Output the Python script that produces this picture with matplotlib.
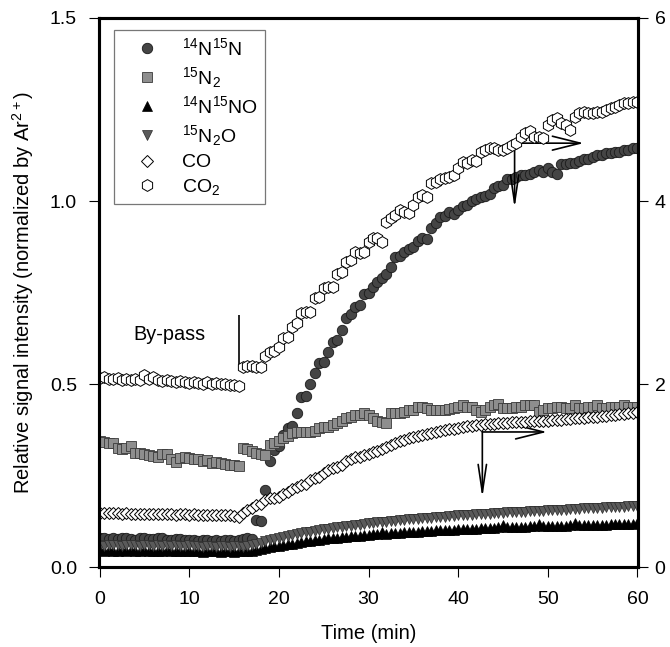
import numpy as np
import matplotlib
matplotlib.use("Agg")
import matplotlib.pyplot as plt

plt.rcParams["font.family"] = ["Liberation Sans", "DejaVu Sans"]
plt.rcParams["mathtext.fontset"] = "custom"
plt.rcParams["mathtext.rm"] = "Liberation Sans"
plt.rcParams["mathtext.default"] = "regular"

# sampling every 0.5 min, 0..60
time = np.arange(0, 60.25, 0.5)

# left axis (normalized by Ar2+)
n14n15 = [
    0.078, 0.080, 0.077, 0.079, 0.076, 0.078, 0.080, 0.077, 0.075, 0.078,
    0.079, 0.076, 0.077, 0.080, 0.078, 0.075, 0.074, 0.077, 0.076, 0.073,
    0.075, 0.074, 0.072, 0.075, 0.073, 0.071, 0.074, 0.072, 0.073, 0.075,
    0.071, 0.074, 0.076, 0.078, 0.077, 0.128, 0.126, 0.21, 0.29, 0.32,
    0.33, 0.36, 0.38, 0.385, 0.42, 0.465, 0.468, 0.50, 0.53, 0.557,
    0.56, 0.587, 0.615, 0.62, 0.647, 0.68, 0.69, 0.71, 0.716, 0.745,
    0.75, 0.765, 0.78, 0.79, 0.80, 0.82, 0.847, 0.85, 0.86, 0.87,
    0.875, 0.89, 0.90, 0.895, 0.926, 0.94, 0.955, 0.96, 0.97, 0.965,
    0.975, 0.985, 0.99, 1.0, 1.005, 1.01, 1.015, 1.02, 1.035, 1.04,
    1.045, 1.06, 1.06, 1.065, 1.07, 1.07, 1.075, 1.08, 1.085, 1.08,
    1.09, 1.08, 1.075, 1.10, 1.10, 1.105, 1.105, 1.11, 1.115, 1.115,
    1.12, 1.125, 1.125, 1.13, 1.13, 1.135, 1.135, 1.14, 1.14, 1.145,
    1.145]

n15_2 = [
    0.345, 0.342, 0.340, 0.338, 0.325, 0.322, 0.326, 0.330, 0.312, 0.312,
    0.310, 0.305, 0.303, 0.300, 0.308, 0.310, 0.296, 0.287, 0.298, 0.300,
    0.298, 0.296, 0.296, 0.290, 0.292, 0.285, 0.287, 0.283, 0.282, 0.280,
    0.278, 0.276, 0.325, 0.322, 0.318, 0.312, 0.310, 0.305, 0.333, 0.338,
    0.345, 0.352, 0.358, 0.366, 0.368, 0.369, 0.370, 0.369, 0.371, 0.380,
    0.383, 0.383, 0.388, 0.393, 0.400, 0.407, 0.410, 0.415, 0.415, 0.420,
    0.415, 0.407, 0.400, 0.397, 0.393, 0.420, 0.420, 0.420, 0.423, 0.430,
    0.430, 0.437, 0.437, 0.434, 0.430, 0.430, 0.430, 0.430, 0.432, 0.434,
    0.437, 0.443, 0.437, 0.437, 0.430, 0.423, 0.430, 0.437, 0.443, 0.445,
    0.434, 0.434, 0.434, 0.437, 0.437, 0.443, 0.443, 0.443, 0.423, 0.430,
    0.434, 0.434, 0.437, 0.437, 0.434, 0.434, 0.443, 0.434, 0.434, 0.437,
    0.437, 0.443, 0.434, 0.434, 0.437, 0.437, 0.437, 0.443, 0.437, 0.437,
    0.437]

n14n15o = [
    0.046, 0.045, 0.047, 0.045, 0.044, 0.046, 0.045, 0.047, 0.044, 0.045,
    0.046, 0.044, 0.045, 0.043, 0.045, 0.046, 0.044, 0.043, 0.045, 0.044,
    0.043, 0.045, 0.044, 0.042, 0.044, 0.043, 0.045, 0.042, 0.043, 0.044,
    0.042, 0.043, 0.044, 0.043, 0.045, 0.047, 0.050, 0.052, 0.055, 0.057,
    0.058, 0.060, 0.062, 0.064, 0.066, 0.068, 0.070, 0.071, 0.073, 0.075,
    0.076, 0.078, 0.079, 0.080, 0.082, 0.083, 0.084, 0.085, 0.086, 0.087,
    0.088, 0.089, 0.090, 0.096, 0.091, 0.092, 0.093, 0.094, 0.095, 0.095,
    0.096, 0.097, 0.098, 0.098, 0.099, 0.100, 0.100, 0.101, 0.102, 0.102,
    0.103, 0.103, 0.104, 0.105, 0.105, 0.106, 0.106, 0.107, 0.107, 0.108,
    0.116, 0.108, 0.109, 0.109, 0.110, 0.110, 0.111, 0.111, 0.118, 0.111,
    0.112, 0.112, 0.113, 0.113, 0.113, 0.114, 0.121, 0.114, 0.115, 0.115,
    0.115, 0.116, 0.116, 0.116, 0.117, 0.117, 0.117, 0.118, 0.118, 0.118,
    0.119]

n15_2o = [
    0.060, 0.058, 0.061, 0.059, 0.060, 0.058, 0.061, 0.059, 0.060, 0.058,
    0.061, 0.059, 0.058, 0.060, 0.057, 0.059, 0.058, 0.060, 0.057, 0.058,
    0.059, 0.057, 0.058, 0.056, 0.058, 0.057, 0.056, 0.058, 0.057, 0.056,
    0.058, 0.057, 0.056, 0.058, 0.060, 0.062, 0.066, 0.070, 0.074, 0.077,
    0.080, 0.083, 0.085, 0.088, 0.090, 0.093, 0.095, 0.097, 0.099, 0.101,
    0.103, 0.105, 0.107, 0.109, 0.110, 0.112, 0.113, 0.115, 0.116, 0.118,
    0.119, 0.120, 0.122, 0.123, 0.124, 0.126, 0.127, 0.128, 0.129, 0.130,
    0.131, 0.132, 0.133, 0.134, 0.135, 0.136, 0.137, 0.138, 0.139, 0.140,
    0.141, 0.141, 0.142, 0.143, 0.144, 0.145, 0.145, 0.146, 0.147, 0.147,
    0.148, 0.149, 0.149, 0.150, 0.151, 0.151, 0.152, 0.153, 0.153, 0.154,
    0.155, 0.155, 0.156, 0.157, 0.157, 0.158, 0.159, 0.159, 0.160, 0.161,
    0.161, 0.162, 0.162, 0.163, 0.164, 0.164, 0.165, 0.165, 0.166, 0.167,
    0.168]

# right axis
co = [
    0.59, 0.59, 0.585, 0.585, 0.585, 0.58, 0.585, 0.58, 0.58, 0.58,
    0.58, 0.58, 0.575, 0.58, 0.575, 0.575, 0.575, 0.57, 0.575, 0.575,
    0.57, 0.575, 0.57, 0.57, 0.57, 0.565, 0.57, 0.565, 0.565, 0.565,
    0.56, 0.55, 0.59, 0.62, 0.64, 0.68, 0.69, 0.73, 0.75, 0.755,
    0.76, 0.80, 0.82, 0.856, 0.88, 0.896, 0.912, 0.948, 0.968, 0.98,
    1.028, 1.06, 1.08, 1.088, 1.12, 1.16, 1.184, 1.20, 1.20, 1.22,
    1.232, 1.252, 1.272, 1.292, 1.312, 1.336, 1.356, 1.376, 1.392, 1.408,
    1.42, 1.432, 1.444, 1.456, 1.464, 1.476, 1.488, 1.496, 1.504, 1.512,
    1.524, 1.532, 1.54, 1.544, 1.552, 1.556, 1.56, 1.564, 1.568, 1.572,
    1.572, 1.576, 1.58, 1.584, 1.584, 1.588, 1.592, 1.592, 1.596, 1.60,
    1.60, 1.604, 1.608, 1.612, 1.616, 1.62, 1.624, 1.628, 1.632, 1.636,
    1.64, 1.644, 1.648, 1.652, 1.656, 1.664, 1.668, 1.676, 1.68, 1.684,
    1.692]

co2 = [
    2.064, 2.072, 2.06, 2.052, 2.064, 2.048, 2.056, 2.044, 2.052, 2.04,
    2.10, 2.06, 2.08, 2.04, 2.032, 2.048, 2.028, 2.024, 2.036, 2.02,
    2.016, 2.024, 2.012, 2.004, 2.02, 2.0, 2.008, 1.996, 2.004, 1.992,
    1.988, 1.98, 2.184, 2.192, 2.20, 2.188, 2.184, 2.304, 2.348, 2.36,
    2.40, 2.504, 2.512, 2.624, 2.668, 2.776, 2.784, 2.788, 2.94, 2.952,
    3.048, 3.056, 3.064, 3.20, 3.224, 3.332, 3.352, 3.44, 3.432, 3.44,
    3.552, 3.60, 3.60, 3.552, 3.772, 3.812, 3.848, 3.90, 3.88, 3.868,
    3.96, 4.04, 4.064, 4.04, 4.20, 4.208, 4.24, 4.252, 4.264, 4.284,
    4.36, 4.428, 4.416, 4.448, 4.44, 4.536, 4.556, 4.58, 4.58, 4.556,
    4.556, 4.58, 4.612, 4.632, 4.70, 4.744, 4.76, 4.70, 4.70, 4.688,
    4.832, 4.88, 4.908, 4.852, 4.832, 4.776, 4.92, 4.96, 4.972, 4.96,
    4.96, 4.972, 4.972, 4.996, 5.016, 5.028, 5.048, 5.072, 5.072, 5.08,
    5.08]

fs = 14
fig = plt.figure(figsize=(6.7, 6.47), dpi=100)
ax = fig.add_axes([0.148, 0.1236, 0.804, 0.8486])
ax2 = ax.twinx()

h1, = ax.plot(time, n14n15, 'o', ms=7.5, mfc='#454545', mec='#1a1a1a', mew=0.6, label=r'$^{14}$N$^{15}$N')
h2, = ax.plot(time, n15_2, 's', ms=6.8, mfc='#8e8e8e', mec='#3a3a3a', mew=0.6, label=r'$^{15}$N$_2$')
h3, = ax.plot(time, n14n15o, '^', ms=7, mfc='black', mec='black', mew=0.5, label=r'$^{14}$N$^{15}$NO')
h4, = ax.plot(time, n15_2o, 'v', ms=7, mfc='#5a5a5a', mec='#2a2a2a', mew=0.5, label=r'$^{15}$N$_2$O')
h5, = ax2.plot(time, co, 'D', ms=6.3, mfc='white', mec='black', mew=0.7, label='CO')
h6, = ax2.plot(time, co2, 'h', ms=8.5, mfc='white', mec='black', mew=0.7, label=r'CO$_2$')

ax.set_xlim(-0.05, 60.05)
ax.set_ylim(0, 1.5)
ax2.set_ylim(0, 6)
ax.set_xticks([0, 10, 20, 30, 40, 50, 60])
ax.set_yticks([0.0, 0.5, 1.0, 1.5])
ax.set_yticklabels(['0.0', '0.5', '1.0', '1.5'])
ax2.set_yticks([0, 2, 4, 6])

for a in (ax, ax2):
    for s in a.spines.values():
        s.set_linewidth(2.2)
ax.tick_params(axis='x', direction='out', length=7, width=0.8, labelsize=fs, pad=10)
ax.tick_params(axis='y', direction='out', length=7, width=0.8, labelsize=fs, pad=9)
ax2.tick_params(axis='y', direction='out', length=7, width=0.8, labelsize=fs, pad=5)

ax.set_xlabel('Time (min)', fontsize=14.5, labelpad=12)
ax.set_ylabel(r'Relative signal intensity (normalized by Ar$^{2+}$)', fontsize=14.5, labelpad=10)

# by-pass marker
ax.vlines(15.6, 0.552, 0.689, color='black', lw=1.2)
ax.text(3.8, 0.634, 'By-pass', fontsize=14.3, ha='left', va='center')

# axis-indicating arrows
arr_r = dict(arrowstyle='->,head_length=2.0,head_width=0.5', mutation_scale=10, lw=1.2, color='black', shrinkA=0, shrinkB=0)
arr_d = dict(arrowstyle='->,head_length=2.0,head_width=0.3', mutation_scale=10, lw=1.2, color='black', shrinkA=0, shrinkB=0)
ax.annotate('', xy=(54.0, 1.158), xytext=(46.3, 1.158), arrowprops=arr_r)
ax.annotate('', xy=(46.3, 0.98), xytext=(46.3, 1.158), arrowprops=arr_d)
ax.annotate('', xy=(49.9, 0.369), xytext=(42.7, 0.369), arrowprops=arr_r)
ax.annotate('', xy=(42.7, 0.189), xytext=(42.7, 0.369), arrowprops=arr_d)

leg = ax2.legend(handles=[h1, h2, h3, h4, h5, h6], loc='upper left',
                 bbox_to_anchor=(0.028, 0.978), fontsize=14, frameon=True,
                 fancybox=False, edgecolor='#555555', borderpad=0.35,
                 labelspacing=0.3, handlelength=2.7, handletextpad=0.45,
                 borderaxespad=0)
leg.get_frame().set_linewidth(0.9)

fig.savefig('out.png', dpi=100)
